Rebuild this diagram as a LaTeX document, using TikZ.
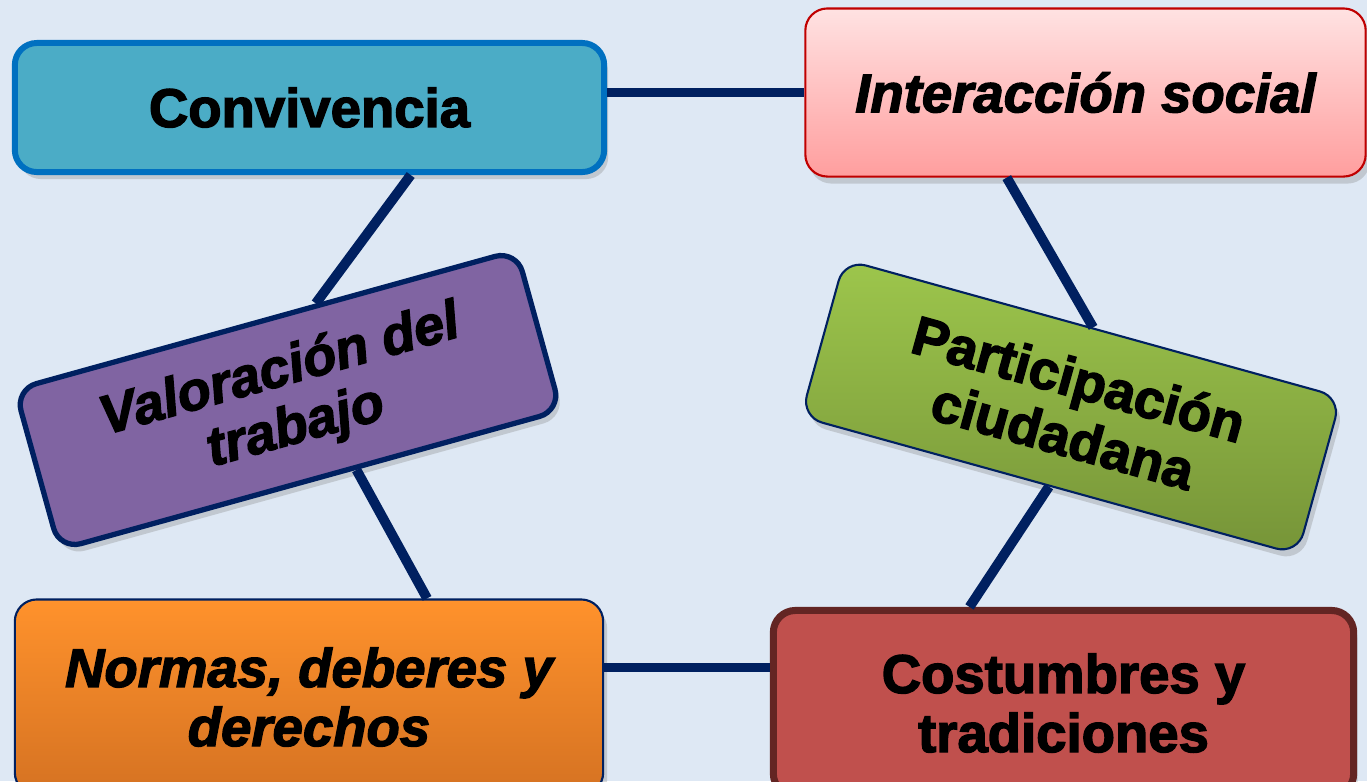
\documentclass[tikz,border=0pt]{standalone}
\usepackage{fontspec}
\setmainfont{Liberation Sans}[BoldFeatures={FakeBold=2.5},BoldItalicFeatures={FakeBold=2.5}]
\usetikzlibrary{calc,shadows}
\definecolor{bgblue}{RGB}{222,232,244}
\definecolor{linknavy}{RGB}{0,32,96}
\definecolor{convfill}{RGB}{75,172,198}
\definecolor{convedge}{RGB}{0,112,192}
\definecolor{intertop}{RGB}{255,226,226}
\definecolor{interbot}{RGB}{255,158,158}
\definecolor{interedge}{RGB}{192,0,0}
\definecolor{valfill}{RGB}{128,100,162}
\definecolor{parttop}{RGB}{157,198,76}
\definecolor{partbot}{RGB}{118,148,56}
\definecolor{normtop}{RGB}{255,146,44}
\definecolor{normbot}{RGB}{213,114,34}
\definecolor{costfill}{RGB}{192,80,77}
\definecolor{costedge}{RGB}{99,37,35}
\newcommand{\picW}{1367}
\newcommand{\picH}{781}

\begin{document}
\begin{tikzpicture}[x=0.01cm,y=-0.01cm,
    topic/.style={rounded corners=0.22cm, align=center, text=black,
        font=\fontsize{15.5}{16.8}\selectfont\bfseries,
        drop shadow={shadow xshift=0.4mm, shadow yshift=-0.7mm, opacity=0.3}},
    slanted/.style={font=\fontsize{15.5}{16.8}\selectfont\bfseries\itshape},
    link/.style={linknavy, line width=2.8pt}]

        % Page and background
        \useasboundingbox (0,0) rectangle (\picW,\picH);
        \clip (0,0) rectangle (\picW,\picH);
        \fill[bgblue] (0,0) rectangle (\picW,\picH);

        % The six boxes
        \node[topic, fill=convfill, draw=convedge, line width=1.7pt,
            minimum width=5.89cm, minimum height=1.29cm] (conv) at (309.5,107.5) {Convivencia};
        \node[topic, slanted, top color=intertop, bottom color=interbot, draw=interedge, line width=0.6pt,
            minimum width=5.6cm, minimum height=1.68cm] (inter) at (1085.5,92.5) {Interacción social};
        \node[topic, slanted, fill=valfill, draw=linknavy, line width=1.5pt, rotate=15.5,
            minimum width=5.2cm, minimum height=1.66cm] (val) at (288,400) {Valoración del\\trabajo};
        \node[topic, top color=parttop, bottom color=partbot, draw=linknavy, line width=0.6pt, rotate=-15.5,
            minimum width=5.15cm, minimum height=1.63cm] (part) at (1071,407) {Participación\\ciudadana};
        \node[topic, slanted, top color=normtop, bottom color=normbot, draw=linknavy, line width=0.6pt,
            minimum width=5.88cm, minimum height=1.95cm] (norm) at (309,697) {Normas, deberes y\\derechos};
        \node[topic, fill=costfill, draw=costedge, line width=2pt,
            minimum width=5.8cm, minimum height=1.85cm] (cost) at (1063.5,703) {Costumbres y\\tradiciones};

        % Connectors round the ring
        \draw[link] (conv.east |- inter.west) -- (inter.west);
        \draw[link] ($(conv.south west)!0.67!(conv.south east)$) -- ($(val.north west)!0.6!(val.north east)$);
        \draw[link] ($(val.south west)!0.59!(val.south east)$) -- ($(norm.north west)!0.7!(norm.north east)$);
        \coordinate (normside) at ($(norm.north east)!0.35!(norm.south east)$);
        \draw[link] (normside) -- (normside -| cost.west);
        \draw[link] ($(cost.north west)!0.34!(cost.north east)$) -- (part.south);
        \draw[link] (part.north) -- ($(inter.south west)!0.36!(inter.south east)$);
\end{tikzpicture}
\end{document}
